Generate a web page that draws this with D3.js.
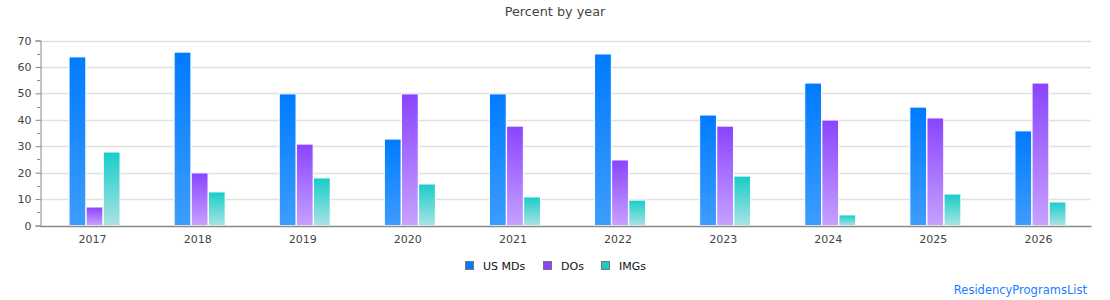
<!DOCTYPE html>
<html><head><meta charset="utf-8">
<script src="https://cdn.jsdelivr.net/npm/d3@7"></script>
<style>body{margin:0;background:#fff;} text{font-family:"DejaVu Sans",sans-serif;}</style>
</head><body>
<svg id="c" width="1110" height="300"></svg>
<script>
const years = ["2017","2018","2019","2020","2021","2022","2023","2024","2025","2026"];
const seriesNames = ["US MDs","DOs","IMGs"];
const usMDs = [63.8, 65.6, 49.8, 32.7, 49.8, 64.9, 41.8, 53.9, 44.8, 35.8];
const dos   = [7.0, 19.9, 30.8, 49.8, 37.6, 24.8, 37.6, 39.9, 40.7, 53.9];
const imgs  = [27.8, 12.7, 18.0, 15.7, 10.8, 9.6, 18.7, 4.0, 11.9, 8.9];
const yTicks = [0,10,20,30,40,50,60,70];
const seriesValues = [usMDs, dos, imgs];
const topColors = ["#007bff","#8a44ff","#17cdc9"];
const botColors = ["#3d9cff","#c6a1ff","#a9e3e3"];

const svg = d3.select("#c");
const m = {l:40, r:1091, t:40.5, b:225.5};
const x = d3.scaleBand().domain(years).range([m.l, m.r]);
const y = d3.scaleLinear().domain([0,70]).range([m.b, m.t]);
const xs = d3.scaleBand().domain(seriesNames).range([0, 51]).paddingInner(0.02);

const defs = svg.append("defs");
seriesNames.forEach((s,i)=>{
  const g = defs.append("linearGradient").attr("id","g"+i)
    .attr("x1",0).attr("x2",0).attr("y1",0).attr("y2",1);
  g.append("stop").attr("offset","0%").attr("stop-color",topColors[i]);
  g.append("stop").attr("offset","100%").attr("stop-color",botColors[i]);
});

// title
svg.append("text").attr("x",555).attr("y",16).attr("text-anchor","middle")
  .attr("font-size",12.8).attr("fill","#444").text("Percent by year");

// grid
svg.append("g").selectAll("line").data(yTicks.filter(d=>d>0)).join("line")
  .attr("x1",m.l).attr("x2",m.r).attr("y1",d=>Math.round(y(d))+0.5).attr("y2",d=>Math.round(y(d))+0.5)
  .attr("stroke","#e0e0e0").attr("stroke-width",1.5);

// bars
const groups = svg.append("g").selectAll("g").data(years).join("g")
  .attr("transform",d=>`translate(${x(d)+x.bandwidth()/2-25+1.5},0)`);
groups.selectAll("rect").data((d,j)=>seriesNames.map((s,i)=>({s,i,v:seriesValues[i][j]}))).join("rect")
  .attr("x",d=>xs(d.s)).attr("width",xs.bandwidth())
  .attr("y",d=>y(d.v)).attr("height",d=>y(0)-y(d.v))
  .attr("fill",d=>`url(#g${d.i})`).attr("stroke","#fff").attr("stroke-width",1);

// y axis
const ya = svg.append("g").attr("transform",`translate(${m.l+0.5},0)`)
  .call(d3.axisLeft(y).tickValues(yTicks).tickSize(5).tickPadding(4).tickFormat(d3.format("d")));
ya.select(".domain").attr("stroke","#888");
ya.selectAll(".tick line").attr("stroke","#888");
ya.selectAll("text").attr("font-size",11).attr("fill","#444").attr("font-family","DejaVu Sans");
const minor = d3.range(5,70,10);
svg.append("g").selectAll("line").data(minor).join("line")
  .attr("x1",m.l-3).attr("x2",m.l).attr("y1",d=>Math.round(y(d))+0.5).attr("y2",d=>Math.round(y(d))+0.5)
  .attr("stroke","#888");

// x axis
const xa = svg.append("g").attr("transform",`translate(0,${Math.round(m.b)})`)
  .call(d3.axisBottom(x).tickSize(0).tickPadding(9));
xa.select(".domain").attr("stroke","#888").attr("stroke-width",1.5);
xa.selectAll("text").attr("font-size",11).attr("fill","#444").attr("font-family","DejaVu Sans");

// legend
const legX = [465, 543, 601];
const leg = svg.append("g").selectAll("g").data(seriesNames).join("g")
  .attr("transform",(d,i)=>`translate(${legX[i]},261)`);
leg.append("rect").attr("width",8).attr("height",8).attr("x",0.5).attr("y",0.5)
  .attr("fill",(d,i)=>topColors[i]).attr("stroke","#777").attr("stroke-width",1);
leg.append("text").attr("x",18).attr("y",8.5).attr("font-size",11).attr("fill","#111").text(d=>d);

// watermark
svg.append("text").attr("x",1087).attr("y",294).attr("text-anchor","end")
  .attr("font-size",11.5).attr("fill","#1a7cff").text("ResidencyProgramsList");
</script>
</body></html>
